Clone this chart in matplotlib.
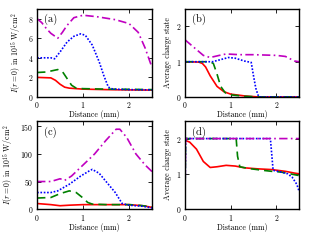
import numpy as np
import matplotlib
matplotlib.use("Agg")
import matplotlib.pyplot as plt

plt.rcParams["font.family"] = "serif"
plt.rcParams["font.serif"] = ["cmr10"]
plt.rcParams["mathtext.fontset"] = "cm"
plt.rcParams["axes.formatter.use_mathtext"] = True
plt.rcParams["font.size"] = 5.6

# ---- panel (a): peak intensity, case 1 ----
a_red_x = [0, 0.3, 0.4, 0.5, 0.6, 0.7, 0.85, 1.0, 1.5, 2.0, 2.5]
a_red_y = [2.0, 1.95, 1.7, 1.3, 1.0, 0.9, 0.85, 0.8, 0.75, 0.72, 0.7]
a_grn_x = [0, 0.2, 0.35, 0.45, 0.55, 0.65, 0.75, 0.85, 1.0, 1.5, 2.0, 2.5]
a_grn_y = [2.5, 2.55, 2.7, 2.8, 2.6, 1.9, 1.2, 0.9, 0.85, 0.8, 0.78, 0.75]
a_blu_x = [0, 0.3, 0.38, 0.5, 0.65, 0.8, 0.95, 1.05, 1.2, 1.35, 1.45, 1.55, 1.65, 2.0, 2.5]
a_blu_y = [4.0, 4.0, 3.9, 4.6, 5.6, 6.2, 6.45, 6.3, 5.3, 3.6, 2.2, 1.0, 0.8, 0.75, 0.72]
a_mag_x = [0, 0.1, 0.2, 0.3, 0.45, 0.55, 0.65, 0.8, 1.0, 1.3, 1.7, 2.0, 2.2, 2.35, 2.5]
a_mag_y = [8.0, 7.6, 7.0, 6.5, 6.0, 6.6, 7.3, 8.1, 8.35, 8.2, 7.9, 7.5, 6.6, 5.0, 3.0]

# ---- panel (b): average charge state, case 1 ----
b_red_x = [0, 0.3, 0.38, 0.45, 0.55, 0.7, 0.85, 1.0, 1.3, 1.6, 2.5]
b_red_y = [1.0, 0.99, 0.95, 0.85, 0.6, 0.3, 0.15, 0.08, 0.03, 0.0, 0.0]
b_grn_x = [0, 0.55, 0.62, 0.7, 0.78, 0.88, 1.0, 1.3, 1.6, 2.5]
b_grn_y = [1.0, 1.0, 0.95, 0.65, 0.3, 0.12, 0.06, 0.02, 0.0, 0.0]
b_blu_x = [0, 0.6, 0.75, 0.95, 1.1, 1.3, 1.45, 1.5, 1.55, 1.6, 1.65, 2.5]
b_blu_y = [1.0, 1.0, 1.05, 1.12, 1.1, 1.02, 0.98, 0.6, 0.25, 0.05, 0.0, 0.0]
b_mag_x = [0, 0.2, 0.4, 0.55, 0.75, 0.9, 1.2, 1.5, 2.0, 2.2, 2.4, 2.5]
b_mag_y = [1.62, 1.4, 1.18, 1.12, 1.18, 1.22, 1.2, 1.2, 1.18, 1.15, 1.02, 1.0]

# ---- panel (c): peak intensity, case 2 ----
c_red_x = [0, 0.3, 0.5, 0.7, 1.0, 1.5, 2.0, 2.3, 2.5]
c_red_y = [10, 8, 6, 7, 8, 8, 8, 6, 3]
c_grn_x = [0, 0.3, 0.5, 0.7, 0.85, 1.0, 1.1, 1.2, 1.5, 2.0, 2.2, 2.5]
c_grn_y = [20, 21, 28, 33, 30, 20, 12, 9, 8, 8, 7, 4]
c_blu_x = [0, 0.3, 0.45, 0.7, 0.95, 1.15, 1.2, 1.35, 1.55, 1.7, 1.85, 2.0, 2.3, 2.5]
c_blu_y = [30, 30, 33, 45, 60, 70, 72, 65, 45, 30, 10, 7, 5, 2]
c_mag_x = [0, 0.3, 0.5, 0.6, 0.75, 1.0, 1.25, 1.5, 1.72, 1.8, 1.95, 2.15, 2.35, 2.5]
c_mag_y = [50, 50, 55, 52, 60, 80, 100, 125, 145, 145, 130, 100, 80, 68]

# ---- panel (d): average charge state, case 2 ----
d_red_x = [0, 0.1, 0.25, 0.4, 0.55, 0.7, 0.9, 1.1, 1.3, 1.6, 1.9, 2.2, 2.4, 2.5]
d_red_y = [1.95, 1.9, 1.7, 1.35, 1.18, 1.2, 1.24, 1.22, 1.17, 1.14, 1.12, 1.07, 1.02, 1.0]
d_grn_x = [0, 0.01, 1.12, 1.15, 1.2, 1.4, 1.7, 1.9, 2.1, 2.3, 2.5]
d_grn_y = [0.4, 2.0, 2.0, 1.5, 1.2, 1.15, 1.1, 1.07, 1.05, 1.0, 0.95]
d_blu_x = [0, 0.01, 1.87, 1.93, 2.1, 2.25, 2.35, 2.45, 2.5]
d_blu_y = [0.4, 2.0, 2.0, 1.1, 1.05, 1.0, 0.9, 0.7, 0.5]
d_mag_x = [0, 0.01, 2.5]
d_mag_y = [0.4, 2.0, 2.0]

panels = [
    ("(a)", [0.120, 0.596, 0.372, 0.367], (0, 9), [0, 2, 4, 6, 8],
     r"$I(r=0)$ in $10^{15}$ W/cm$^2$",
     [(a_red_x, a_red_y), (a_grn_x, a_grn_y), (a_blu_x, a_blu_y), (a_mag_x, a_mag_y)]),
    ("(b)", [0.599, 0.596, 0.369, 0.367], (0, 2.5), [0, 1, 2],
     "Average charge state",
     [(b_red_x, b_red_y), (b_grn_x, b_grn_y), (b_blu_x, b_blu_y), (b_mag_x, b_mag_y)]),
    ("(c)", [0.120, 0.129, 0.372, 0.367], (0, 160), [0, 50, 100, 150],
     r"$I(r=0)$ in $10^{15}$ W/cm$^2$",
     [(c_red_x, c_red_y), (c_grn_x, c_grn_y), (c_blu_x, c_blu_y), (c_mag_x, c_mag_y)]),
    ("(d)", [0.599, 0.129, 0.369, 0.367], (0, 2.5), [0, 1, 2],
     "Average charge state",
     [(d_red_x, d_red_y), (d_grn_x, d_grn_y), (d_blu_x, d_blu_y), (d_mag_x, d_mag_y)]),
]

styles = [
    dict(color="#ff0000", linestyle="-"),
    dict(color="#008000", linestyle=(0, (5, 3))),
    dict(color="#0000ff", linestyle=(0, (1, 1))),
    dict(color="#c000c0", linestyle=(0, (5, 2, 1, 2))),
]

fig = plt.figure(figsize=(3.09, 2.40), dpi=100)
for label, rect, ylim, yticks, ylabel, series in panels:
    ax = fig.add_axes(rect)
    for (x, y), st in zip(series, styles):
        ax.plot(x, y, linewidth=1.2, **st)
    ax.set_xlim(0, 2.5)
    ax.set_ylim(*ylim)
    ax.set_xticks([0, 1, 2])
    ax.set_yticks(yticks)
    ax.tick_params(direction="in", top=True, right=True, length=3, width=0.6, pad=2.5)
    for s in ax.spines.values():
        s.set_linewidth(1.0)
    ax.set_xlabel("Distance (mm)", labelpad=0)
    ax.set_ylabel(ylabel, labelpad=3)
    ax.text(0.06, 0.94, label, transform=ax.transAxes, ha="left", va="top", fontsize=7.5)

fig.savefig("out.png", dpi=100)
